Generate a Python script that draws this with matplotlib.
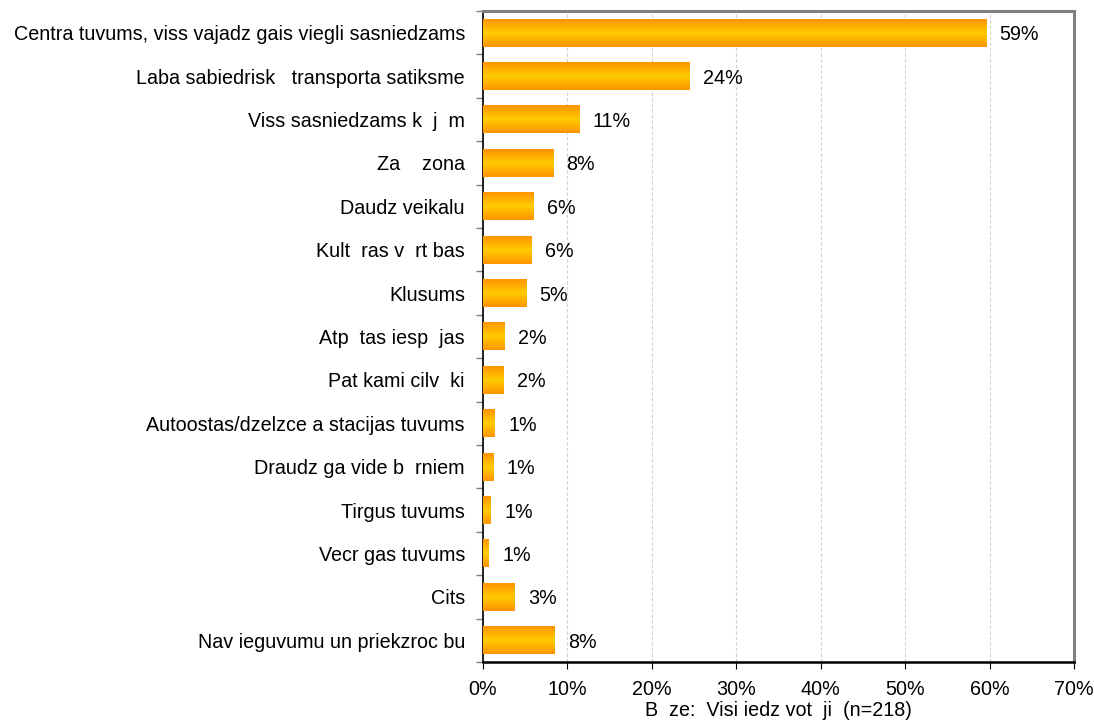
import numpy as np
import matplotlib
matplotlib.use("Agg")
import matplotlib.pyplot as plt
from matplotlib.colors import LinearSegmentedColormap
from matplotlib.ticker import FixedLocator, PercentFormatter

plt.rcParams['font.family'] = ['Liberation Sans', 'DejaVu Sans']

categories = [
    "Centra tuvums, viss vajadz gais viegli sasniedzams",
    "Laba sabiedrisk   transporta satiksme",
    "Viss sasniedzams k  j  m",
    "Za    zona",
    "Daudz veikalu",
    "Kult  ras v  rt bas",
    "Klusums",
    "Atp  tas iesp  jas",
    "Pat kami cilv  ki",
    "Autoostas/dzelzce a stacijas tuvums",
    "Draudz ga vide b  rniem",
    "Tirgus tuvums",
    "Vecr gas tuvums",
    "Cits",
    "Nav ieguvumu un priekzroc bu",
]
values = [59.6, 24.5, 11.4, 8.3, 6.0, 5.8, 5.1, 2.6, 2.4, 1.4, 1.2, 0.9, 0.7, 3.7, 8.5]
value_labels = ["59%", "24%", "11%", "8%", "6%", "6%", "5%", "2%", "2%",
                "1%", "1%", "1%", "1%", "3%", "8%"]
xticks = [0, 10, 20, 30, 40, 50, 60, 70]
xlabel = "B  ze:  Visi iedz vot  ji  (n=218)"

fig = plt.figure(figsize=(10.94, 7.23), dpi=100)
ax = fig.add_axes([483/1094, 1-662/723, (1074-483)/1094, (662-11)/723])

y = np.arange(len(categories))
bars = ax.barh(y, values, height=0.64, color='#FF9900', edgecolor='none', zorder=2)

cmap = LinearSegmentedColormap.from_list('og', ['#FF9400', '#FFCC00', '#FF9400'])
grad = np.linspace(0, 1, 64).reshape(-1, 1)
for b in bars:
    x0, y0 = b.get_x(), b.get_y()
    w, h = b.get_width(), b.get_height()
    ax.imshow(grad, extent=[x0, x0 + w, y0 + h, y0], cmap=cmap, aspect='auto',
              interpolation='bicubic', zorder=3)

fs = 14.2
for yi, v, lab in zip(y, values, value_labels):
    ax.text(v + 1.6, yi, lab, va='center_baseline', ha='left', fontsize=fs,
            color='black', zorder=4)

ax.set_xlim(0, 70)
ax.set_ylim(len(categories) - 0.5, -0.5)
ax.set_xticks(xticks)
ax.xaxis.set_major_formatter(PercentFormatter(decimals=0))
ax.set_yticks(y)
ax.set_yticklabels(categories, fontsize=fs)
ax.yaxis.set_minor_locator(FixedLocator(np.arange(-0.5, len(categories), 1.0)))
ax.tick_params(axis='y', which='major', length=0, pad=13)
ax.tick_params(axis='y', which='minor', length=5, color='#808080', width=1)
ax.tick_params(axis='x', which='major', length=5, color='black', labelsize=fs, pad=8)
ax.set_xlabel(xlabel, fontsize=fs, labelpad=1.5)

ax.grid(axis='x', color='#D0D0D0', linestyle=(0, (3, 2)), linewidth=0.8, zorder=0)
ax.set_axisbelow(True)

ax.spines['top'].set_color('#808080')
ax.spines['top'].set_linewidth(2.2)
ax.spines['right'].set_color('#808080')
ax.spines['right'].set_linewidth(2.2)
ax.spines['left'].set_color('black')
ax.spines['left'].set_linewidth(1.2)
ax.spines['bottom'].set_color('black')
ax.spines['bottom'].set_linewidth(1.8)

fig.savefig("out.png", dpi=100)
